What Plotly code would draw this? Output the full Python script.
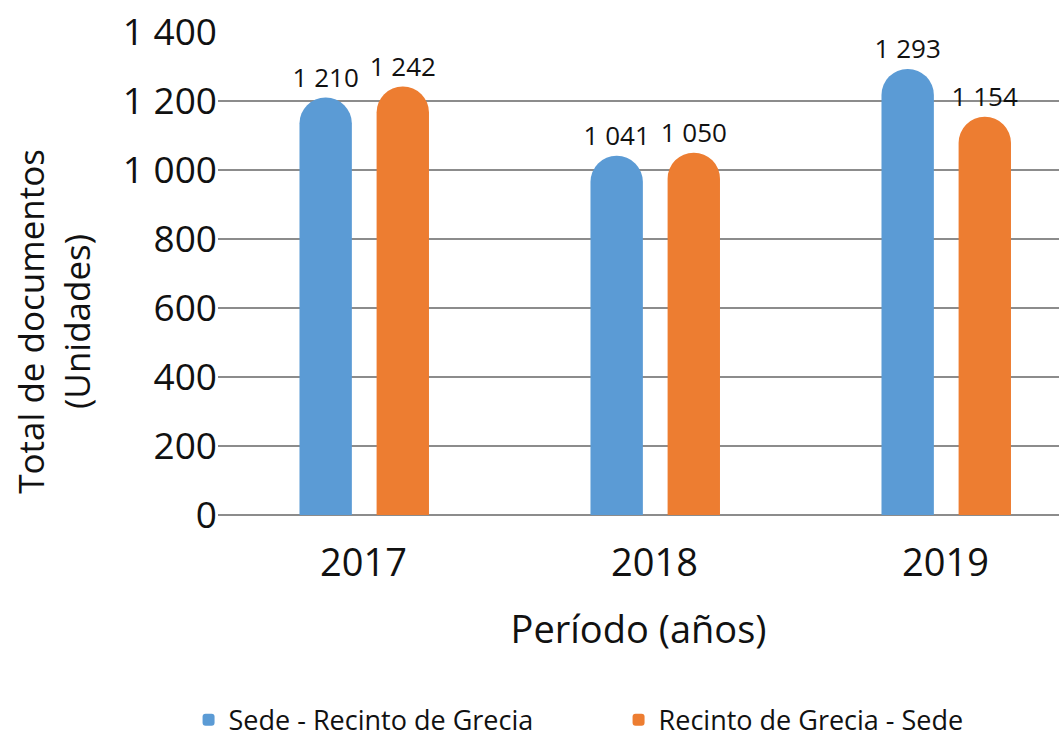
import plotly.graph_objects as go

# Documentos enviados por período
periodos = ["2017", "2018", "2019"]
sede_recinto = [1210, 1041, 1293]
recinto_sede = [1242, 1050, 1154]
series_nombres = ["Sede - Recinto de Grecia", "Recinto de Grecia - Sede"]
y_ticks = [0, 200, 400, 600, 800, 1000, 1200, 1400]

AZUL = "#5B9BD5"
NARANJA = "#ED7D31"
FUENTE = "Open Sans"

fig = go.Figure()
for nombre, valores, color, offset in [
    (series_nombres[0], sede_recinto, AZUL, -0.22),
    (series_nombres[1], recinto_sede, NARANJA, 0.045),
]:
    fig.add_trace(go.Bar(
        x=periodos,
        y=valores,
        name=nombre,
        width=0.18,
        offset=offset,
        marker=dict(color=color, cornerradius="50%", line=dict(width=0)),
        texttemplate="%{y:,d}",
        textposition="outside",
        constraintext="none",
        cliponaxis=False,
        textfont=dict(family=FUENTE, size=26, color="#111111"),
    ))

fig.update_layout(
    width=1059,
    height=742,
    barmode="overlay",
    separators=", ",
    plot_bgcolor="white",
    paper_bgcolor="white",
    font=dict(family=FUENTE, color="#111111"),
    margin=dict(l=218, r=0, t=32, b=227, autoexpand=False),
    showlegend=True,
    legend=dict(
        orientation="h",
        x=-0.035,
        xanchor="left",
        y=-0.425,
        yanchor="middle",
        font=dict(family=FUENTE, size=27),
        entrywidth=385,
        itemwidth=30,
    ),
    xaxis=dict(
        type="category",
        range=[-0.5, 2.39],
        automargin=False,
        showgrid=False,
        showline=False,
        ticks="",
        ticklabelstandoff=22,
        tickfont=dict(family=FUENTE, size=38),
        title=dict(text="Período (años)", font=dict(family=FUENTE, size=38), standoff=30),
    ),
    yaxis=dict(
        range=[0, 1400],
        automargin=False,
        tickvals=y_ticks,
        tickformat=",d",
        showgrid=True,
        gridcolor="#8c8c8c",
        gridwidth=1.5,
        zeroline=True,
        zerolinecolor="#8c8c8c",
        zerolinewidth=1.5,
        showline=False,
        ticks="",
        ticklabelstandoff=0,
        tickfont=dict(family=FUENTE, size=37),
    ),
    annotations=[dict(
        text="Total de documentos<br>(Unidades)",
        textangle=-90,
        xref="paper", yref="paper",
        x=-0.195, y=0.4,
        xanchor="center", yanchor="middle",
        showarrow=False,
        font=dict(family=FUENTE, size=35),
    )],
)

fig.write_html("out.html")
